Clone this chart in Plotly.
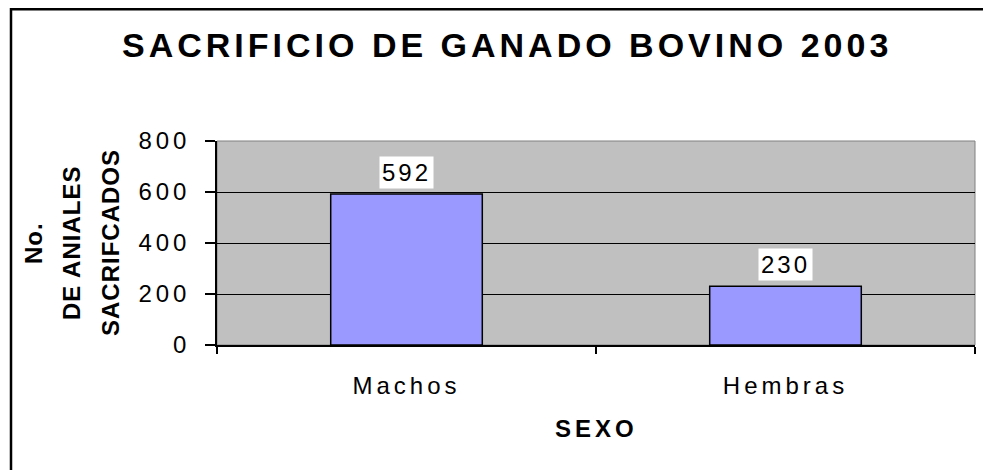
import plotly.graph_objects as go

categories = ["Machos", "Hembras"]
values = [592, 230]
y_ticks = [0, 200, 400, 600, 800]

title_text = "SACRIFICIO DE GANADO BOVINO 2003"
x_title = "SEXO"
y_title_lines = ["No.", "DE ANIALES", "SACRIFCADOS"]

FONT = "Liberation Sans, Arial, sans-serif"


def sp(t, px):
    return f'<span style="letter-spacing:{px}px">{t}</span>'


# page body has an 8px margin: figure sits at (8, 8) in the window
OFF = 8
W, H = 991 - OFF, 470 - OFF
# plot area in window pixels: x 217..975, y 141..345
L = 217 - OFF
T = 141 - OFF
R = W - (975 - OFF)
B = H - (345 - OFF)
PW, PH = W - L - R, H - T - B


def px_x(p):
    return (p - OFF - L) / PW


def px_y(p):
    return (H - B - (p - OFF)) / PH


fig = go.Figure()
fig.add_trace(go.Bar(
    x=categories, y=values,
    marker=dict(color="#9999FF", line=dict(color="black", width=1.5)),
    width=0.4, hoverinfo="x+y",
))

annotations = []
for c, v in zip(categories, values):
    annotations.append(dict(
        x=c, y=v, xref="x", yref="y", text=sp(str(v), 3),
        showarrow=False, yanchor="bottom", yshift=5,
        bgcolor="white", borderpad=2,
        font=dict(family=FONT, size=24, color="black"),
    ))

annotations.append(dict(
    x=px_x(507), y=px_y(45), xref="paper", yref="paper",
    text="<b>" + sp(title_text, 4) + "</b>", showarrow=False,
    xanchor="center", yanchor="middle",
    font=dict(family=FONT, size=34, color="black"),
))
annotations.append(dict(
    x=px_x(596), y=px_y(428), xref="paper", yref="paper",
    text="<b>" + sp(x_title, 4) + "</b>", showarrow=False,
    xanchor="center", yanchor="middle",
    font=dict(family=FONT, size=24, color="black"),
))
for line, xp in zip(y_title_lines, [33, 71, 110]):
    annotations.append(dict(
        x=px_x(xp), y=px_y(243), xref="paper", yref="paper",
        text="<b>" + sp(line, 1) + "</b>", showarrow=False, textangle=-90,
        xanchor="center", yanchor="middle",
        font=dict(family=FONT, size=24, color="black"),
    ))

shapes = [
    dict(type="rect", xref="paper", yref="paper",
         x0=0, x1=1, y0=0, y1=1, line=dict(color="#808080", width=1),
         fillcolor="rgba(0,0,0,0)", layer="below"),
    dict(type="rect", xref="paper", yref="paper",
         x0=px_x(11), x1=px_x(1010), y0=px_y(490), y1=px_y(9.2),
         line=dict(color="black", width=2.5), fillcolor="rgba(0,0,0,0)"),
]

fig.update_layout(
    width=W, height=H,
    margin=dict(l=L, r=R, t=T, b=B, pad=0),
    paper_bgcolor="white", plot_bgcolor="#C0C0C0",
    showlegend=False,
    font=dict(family=FONT, color="black"),
    annotations=annotations,
    shapes=shapes,
    bargap=0.6,
)
fig.update_xaxes(
    type="category", range=[-0.5, 1.5],
    tickvals=categories, ticktext=[sp(c, 4) for c in categories],
    tickson="boundaries", ticks="outside", ticklen=7, tickwidth=1.5, tickcolor="black",
    showline=True, linecolor="black", linewidth=1.5,
    showgrid=False, ticklabelstandoff=18,
    tickfont=dict(family=FONT, size=24, color="black"),
)
fig.update_yaxes(
    range=[0, 800], tickvals=y_ticks, ticktext=[sp(str(t), 4) for t in y_ticks],
    ticks="outside", ticklen=10, tickwidth=1.5, tickcolor="black",
    showline=True, linecolor="black", linewidth=1.5,
    showgrid=True, gridcolor="black", gridwidth=1, zeroline=False,
    ticklabelstandoff=10,
    tickfont=dict(family=FONT, size=24, color="black"),
)

fig.write_html("out.html")
